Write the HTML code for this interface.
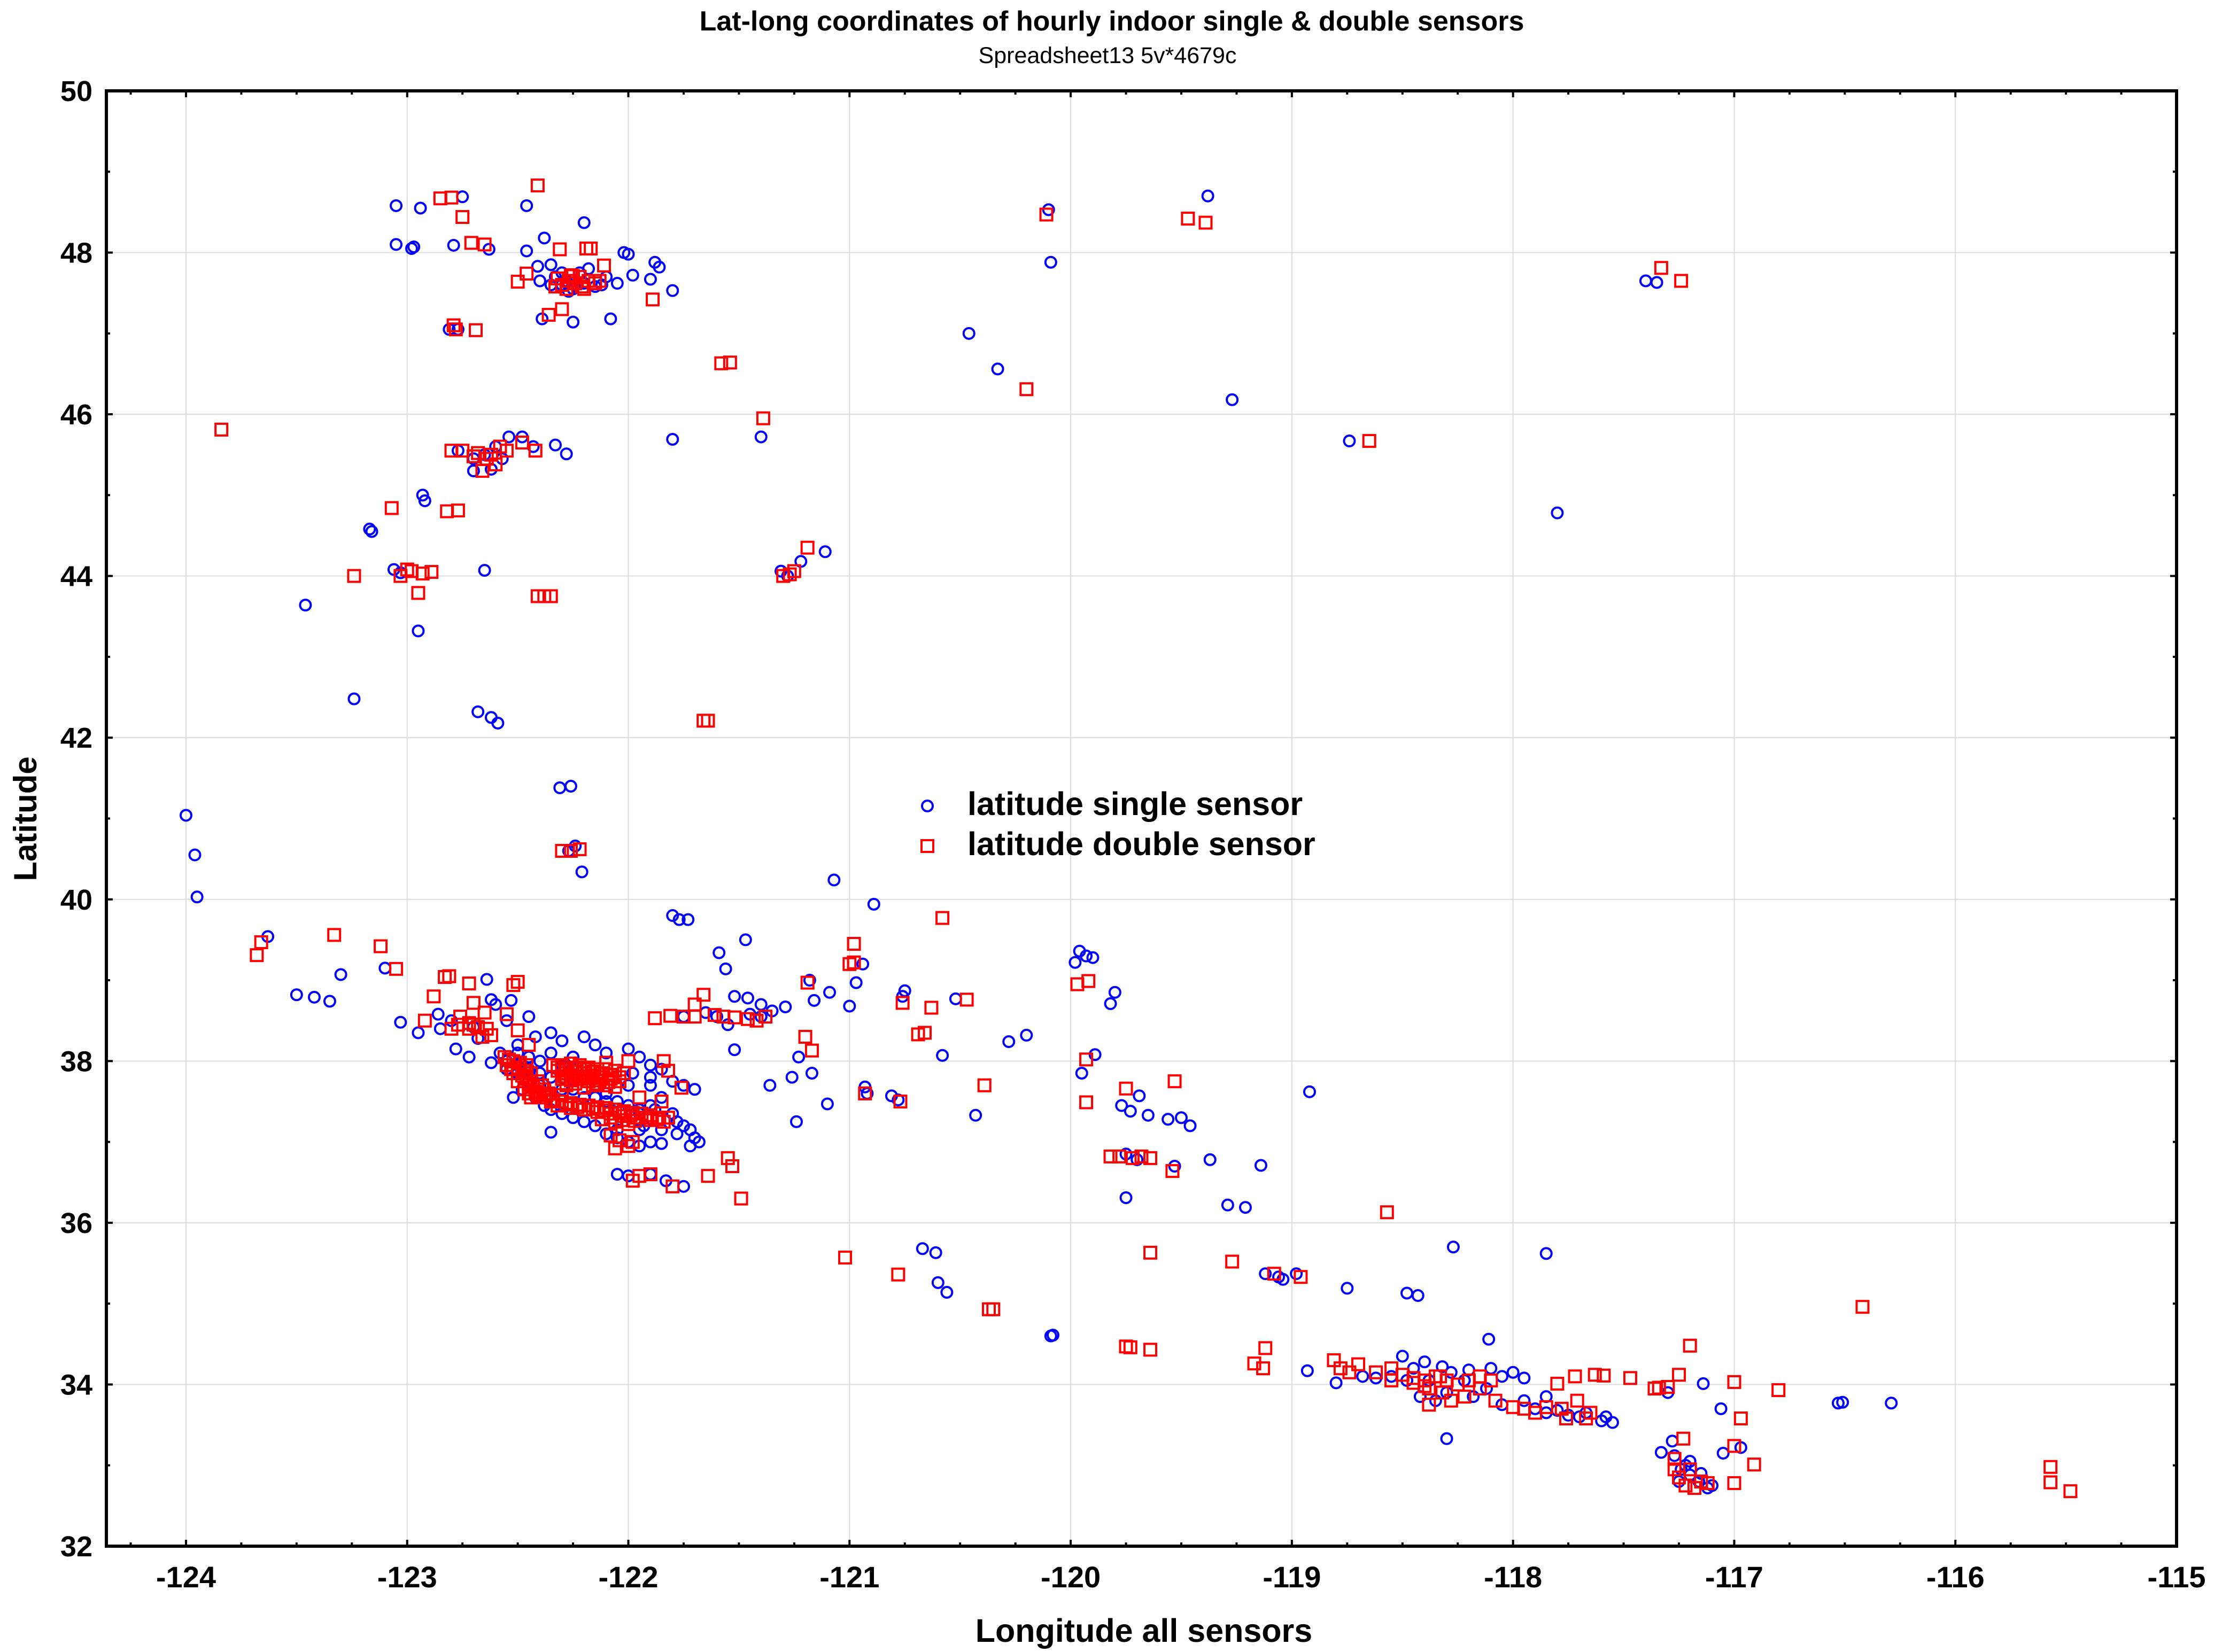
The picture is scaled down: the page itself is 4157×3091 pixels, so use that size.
<!DOCTYPE html>
<html><head><meta charset="utf-8"><style>
html,body{margin:0;padding:0;background:#fff;}
svg{display:block;}
text{font-family:"Liberation Sans",Arial,sans-serif;}
</style></head><body>
<svg id="chart" width="4157" height="3091" viewBox="0 0 4157 3091" xmlns="http://www.w3.org/2000/svg">
<rect width="4157" height="3091" fill="#fff"/>
<text x="2080" y="57" text-anchor="middle" font-size="52" font-weight="bold">Lat-long coordinates of hourly indoor single &amp; double sensors</text>
<text x="2072" y="118" text-anchor="middle" font-size="43">Spreadsheet13 5v*4679c</text>
<g id="grid"></g>
<g id="pts"></g>
<rect x="199" y="170" width="3873" height="2723" fill="none" stroke="#000" stroke-width="6"/>
<g id="axes"></g>
<text x="2140" y="3072" text-anchor="middle" font-size="61" font-weight="bold">Longitude all sensors</text>
<text x="0" y="0" transform="translate(68,1532) rotate(-90)" text-anchor="middle" font-size="60" font-weight="bold">Latitude</text>
<g>
<circle cx="1735" cy="1508" r="10" fill="none" stroke="#0000ff" stroke-width="4"/>
<text x="1810" y="1525" font-size="61" font-weight="bold">latitude single sensor</text>
<rect x="1724" y="1572" width="22" height="22" fill="none" stroke="#ff0000" stroke-width="4"/>
<text x="1810" y="1600" font-size="61" font-weight="bold">latitude double sensor</text>
</g>
</svg>
<script>
const xTicks=[-124,-123,-122,-121,-120,-119,-118,-117,-116,-115];
const yTicks=[32,34,36,38,40,42,44,46,48,50];
const singleCoords=[
[-123.05,48.58],[-122.94,48.55],[-122.75,48.69],[-122.46,48.58],[-123.05,48.1],[-122.98,48.05],[-122.97,48.07],[-122.79,48.09],[-122.63,48.04],[-122.46,48.02],[-122.38,48.18],[-122.2,48.37],[-122.02,48.0],[-122.0,47.98],[-121.88,47.88],[-121.86,47.82],[-121.8,47.53],[-121.9,47.67],[-122.41,47.83],[-122.39,47.18],[-122.25,47.14],[-122.08,47.18],[-122.81,47.05],[-122.77,47.05],[-122.3,47.6],[-122.28,47.65],[-122.33,47.7],[-122.25,47.55],[-122.2,47.62],[-122.15,47.58],[-122.1,47.7],[-122.05,47.62],[-121.98,47.72],[-122.35,47.6],[-122.22,47.75],[-122.18,47.8],[-122.3,47.75],[-122.12,47.6],[-122.27,47.52],[-122.4,47.65],[-122.35,47.85],
[-122.77,45.55],[-122.7,45.3],[-122.62,45.32],[-122.57,45.45],[-122.54,45.72],[-122.48,45.72],[-122.43,45.6],[-122.33,45.62],[-122.28,45.51],[-122.6,45.6],[-122.65,45.5],[-122.7,45.45],[-121.8,45.69],[-121.4,45.72],
[-123.17,44.58],[-123.16,44.55],[-122.93,45.0],[-122.92,44.93],[-123.03,44.04],[-123.06,44.08],[-122.95,43.32],[-122.65,44.07],[-123.46,43.64],[-123.24,42.48],[-122.68,42.32],[-122.62,42.25],[-122.59,42.18],[-122.31,41.38],[-122.26,41.4],[-122.24,40.66],[-122.27,40.6],[-122.21,40.34],[-124.0,41.04],[-123.96,40.55],[-123.95,40.03],[-121.31,44.06],[-121.28,44.0],[-121.22,44.18],[-121.11,44.3],[-121.07,40.24],[-120.89,39.94],
[-120.46,47.0],[-120.33,46.56],[-120.1,48.53],[-120.09,47.88],[-119.38,48.7],[-119.27,46.18],[-118.74,45.67],[-117.8,44.78],[-117.4,47.65],[-117.35,47.63],
[-123.63,39.54],[-123.5,38.82],[-123.42,38.79],[-123.35,38.74],[-123.3,39.07],[-123.1,39.15],[-123.03,38.48],[-122.86,38.58],[-122.78,38.15],[-122.72,38.05],[-122.64,39.01],[-122.53,38.75],
[-122.62,38.76],[-122.6,38.7],[-122.95,38.35],[-122.85,38.4],[-122.8,38.5],[-122.7,38.42],[-122.68,38.28],[-122.55,38.5],[-122.45,38.55],[-122.5,38.2],[-122.42,38.3],[-122.35,38.35],[-122.3,38.25],[-122.2,38.3],[-122.15,38.2],[-122.1,38.1],[-122.0,38.15],[-121.95,38.05],[-121.9,37.95],[-121.85,37.9],[-121.8,37.75],[-121.75,37.7],[-121.7,37.65],[-122.62,37.98],[-122.55,37.9],[-122.5,37.85],[-122.45,37.75],[-122.48,37.65],[-122.42,37.55],[-122.38,37.45],[-122.35,37.4],[-122.3,37.35],[-122.25,37.3],[-122.2,37.25],[-122.15,37.2],[-122.1,37.1],[-122.05,37.05],[-122.0,37.0],[-121.95,36.95],[-121.9,37.0],[-121.85,36.98],[-121.78,37.1],[-121.72,37.15],[-121.7,37.05],[-121.68,37.0],[-121.72,36.95],[-122.35,37.12],[-122.05,36.6],[-122.0,36.58],[-121.9,36.6],[-121.83,36.52],[-121.75,36.45],[-121.9,37.45],[-121.85,37.55],[-121.95,37.35],[-122.05,37.5],[-122.1,37.6],[-122.15,37.7],[-122.2,37.8],[-122.25,37.9],[-122.3,37.95],[-122.4,38.0],[-122.58,38.1],[-122.0,37.7],[-121.9,37.7],[-122.45,38.05],[-122.52,37.55],
[-122.55,38.0],[-122.5,37.95],[-122.45,37.9],[-122.4,37.85],[-122.35,37.8],[-122.4,37.7],[-122.3,37.65],[-122.2,37.55],[-122.1,37.5],[-122.0,37.45],[-121.95,37.4],[-121.88,37.4],[-121.8,37.35],[-121.78,37.25],[-121.85,37.15],[-121.95,37.15],[-122.05,37.15],[-121.93,37.2],[-121.75,37.2],[-122.25,37.65],[-122.15,37.55],[-122.5,38.1],[-122.35,38.1],[-122.25,38.05],[-121.98,37.85],[-121.9,37.8],
[-121.8,39.8],[-121.77,39.75],[-121.73,39.75],[-121.59,39.34],[-121.47,39.5],[-121.56,39.14],[-121.52,38.8],[-121.46,38.78],[-121.4,38.7],[-121.29,38.67],[-121.16,38.75],[-121.0,38.68],[-120.97,38.97],[-120.94,39.2],[-121.18,39.0],[-121.09,38.85],[-121.52,38.14],[-121.36,37.7],[-121.26,37.8],[-121.23,38.05],[-121.17,37.85],[-121.24,37.25],[-121.1,37.47],[-120.81,37.57],[-120.78,37.52],[-120.75,38.87],[-120.76,38.8],[-120.58,38.07],[-120.52,38.77],[-120.28,38.24],[-120.2,38.32],[-119.95,37.85],[-119.89,38.08],[-119.82,38.71],[-119.8,38.85],[-119.96,39.36],[-119.93,39.3],[-119.9,39.28],[-119.98,39.22],[-120.43,37.33],[-120.93,37.68],[-120.92,37.6],[-121.45,38.58],[-121.4,38.55],[-121.35,38.62],[-121.6,38.55],[-121.75,38.55],[-121.65,38.6],[-121.55,38.45],
[-119.69,37.57],[-119.65,37.33],[-119.77,37.45],[-119.73,37.38],[-119.56,37.28],[-119.5,37.3],[-119.46,37.2],[-119.75,36.31],[-119.53,36.7],[-119.37,36.78],[-119.29,36.22],[-119.21,36.19],[-119.14,36.71],[-118.92,37.62],[-119.75,36.85],[-119.7,36.78],
[-120.67,35.68],[-120.61,35.63],[-120.6,35.26],[-120.56,35.14],[-120.09,34.6],[-120.08,34.61],[-119.12,35.37],[-119.06,35.33],[-119.04,35.3],[-118.98,35.37],
[-118.93,34.17],[-118.8,34.02],[-118.68,34.1],[-118.62,34.08],[-118.55,34.1],[-118.5,34.35],[-118.45,34.2],[-118.4,34.28],[-118.38,34.05],[-118.42,33.85],[-118.35,33.8],[-118.3,33.9],[-118.28,34.15],[-118.22,34.05],[-118.18,33.85],[-118.12,33.95],[-118.05,34.1],[-118.0,34.15],[-117.95,34.08],[-118.1,34.2],[-118.2,34.18],[-118.32,34.22],[-118.48,34.05],[-118.3,33.33],[-118.27,35.7],[-118.11,34.56],[-118.75,35.19],[-118.48,35.13],[-118.43,35.1],[-117.85,35.62],[-117.9,33.7],[-117.85,33.65],[-117.8,33.68],[-117.75,33.62],[-117.7,33.6],[-117.67,33.65],[-117.6,33.55],[-117.55,33.53],[-117.58,33.6],[-118.05,33.75],[-117.95,33.8],[-117.85,33.85],
[-117.33,33.16],[-117.27,33.12],[-117.24,32.95],[-117.2,32.88],[-117.16,32.8],[-117.12,32.72],[-117.25,32.8],[-117.2,33.05],[-117.15,32.9],[-117.05,33.15],[-116.97,33.22],[-117.06,33.7],[-117.3,33.9],[-117.14,34.01],[-116.53,33.77],[-116.51,33.78],[-116.29,33.77],[-117.28,33.3],[-117.22,33.0],[-117.1,32.75]
];
const doubleCoords=[
[-123.84,45.81],[-123.66,39.47],[-123.68,39.31],[-123.33,39.56],[-123.12,39.42],[-123.05,39.14],[-123.24,44.0],[-123.07,44.84],[-123.03,44.0],[-122.98,44.06],[-122.93,44.03],[-122.89,44.05],[-122.95,43.79],[-123.0,44.08],[-122.77,44.81],[-122.82,44.8],[-122.85,48.67],[-122.8,48.68],[-122.75,48.44],[-122.71,48.12],[-122.65,48.1],[-122.79,47.1],[-122.78,47.05],[-122.69,47.04],[-122.41,48.83],[-122.5,47.64],[-122.46,47.74],[-122.36,47.23],[-122.3,47.3],[-122.31,48.04],[-122.25,47.71],[-122.19,48.05],[-122.17,48.05],[-122.11,47.84],[-121.89,47.42],[-122.13,47.65],
[-122.3,47.6],[-122.27,47.65],[-122.24,47.62],[-122.21,47.58],[-122.28,47.55],[-122.32,47.68],[-122.22,47.7],[-122.18,47.65],[-122.15,47.62],[-122.33,47.58],[-122.26,47.72],[-122.2,47.55],
[-121.58,46.63],[-121.54,46.64],[-121.39,45.95],[-120.2,46.31],[-120.11,48.47],[-119.47,48.42],[-119.39,48.37],[-118.65,45.67],[-117.33,47.81],[-117.24,47.65],
[-122.8,45.55],[-122.75,45.55],[-122.68,45.52],[-122.64,45.45],[-122.6,45.38],[-122.55,45.55],[-122.48,45.65],[-122.42,45.55],[-122.66,45.3],[-122.62,45.5],[-122.7,45.48],[-122.58,45.6],
[-122.41,43.75],[-122.38,43.75],[-122.35,43.75],[-121.66,42.21],[-121.64,42.21],[-121.3,44.0],[-121.27,44.02],[-121.25,44.06],[-121.19,44.35],[-122.3,40.6],[-122.26,40.6],[-122.22,40.62],
[-122.88,38.8],[-122.92,38.5],[-122.81,39.05],[-122.83,39.04],[-122.72,38.96],[-122.7,38.72],[-122.5,38.98],[-122.52,38.94],[-122.76,38.55],[-122.8,38.4],[-122.7,38.45],[-122.65,38.6],[-122.55,38.58],[-122.5,38.38],[-122.45,38.2],
[-122.56,38.05],[-122.52,38.0],[-122.55,37.95],[-122.5,37.92],[-122.46,37.95],[-122.52,37.85],[-122.48,37.82],[-122.44,37.85],[-122.5,37.75],[-122.45,37.72],[-122.41,37.75],[-122.47,37.65],[-122.42,37.62],[-122.38,37.65],[-122.44,37.55],[-122.4,37.55],[-122.37,37.58],
[-122.54,38.02],[-122.49,37.98],[-122.47,37.88],[-122.53,37.9],[-122.46,37.78],[-122.43,37.68],[-122.39,37.7],[-122.45,37.6],[-122.41,37.58],
[-122.34,37.95],[-122.3,37.95],[-122.26,37.97],[-122.22,37.95],[-122.18,37.92],[-122.14,37.9],[-122.1,37.9],[-122.06,37.88],[-122.02,37.85],[-122.32,37.88],[-122.28,37.85],[-122.24,37.87],[-122.2,37.85],[-122.16,37.82],[-122.12,37.8],[-122.08,37.78],[-122.04,37.75],[-122.3,37.78],[-122.26,37.76],[-122.22,37.78],[-122.18,37.75],[-122.14,37.72],[-122.1,37.7],[-122.06,37.68],[-122.28,37.7],[-122.2,37.67],
[-122.32,37.92],[-122.28,37.9],[-122.24,37.92],[-122.2,37.9],[-122.16,37.87],[-122.12,37.85],[-122.08,37.83],[-122.04,37.8],[-122.29,37.81],[-122.25,37.81],[-122.21,37.81],[-122.17,37.79],[-122.13,37.76],[-122.09,37.74],[-122.24,37.72],[-122.16,37.7],
[-122.38,37.55],[-122.34,37.52],[-122.3,37.5],[-122.26,37.48],[-122.22,37.46],[-122.18,37.45],[-122.14,37.43],[-122.1,37.42],[-122.06,37.4],[-122.02,37.38],[-121.98,37.36],[-121.94,37.35],[-121.9,37.33],[-121.86,37.3],[-121.82,37.3],[-122.32,37.45],[-122.26,37.42],[-122.2,37.4],[-122.14,37.37],[-122.08,37.35],[-122.02,37.32],[-121.96,37.3],[-121.9,37.27],[-121.84,37.25],[-122.36,37.6],[-122.3,37.58],[-122.12,37.28],[-122.06,37.25],[-122.0,37.22],
[-122.35,37.5],[-122.28,37.46],[-122.23,37.43],[-122.16,37.41],[-122.11,37.39],[-122.04,37.36],[-121.99,37.33],[-121.92,37.3],[-121.87,37.28],[-122.08,37.3],[-122.03,37.27],[-121.97,37.26],
[-122.08,37.08],[-122.04,37.02],[-122.0,36.95],[-122.06,36.92],[-121.98,37.0],
[-122.77,38.45],[-122.72,38.47],[-122.68,38.42],[-122.64,38.4],[-122.62,38.32],[-122.66,38.3],[-122.72,38.4],
[-121.81,38.56],[-121.75,38.55],[-121.7,38.55],[-121.57,38.55],[-121.52,38.54],[-121.46,38.52],[-121.42,38.5],[-121.38,38.55],[-121.88,38.53],[-121.76,37.67],[-121.66,38.82],[-121.7,38.7],[-121.61,38.57],[-121.64,36.58],[-121.49,36.3],[-121.55,36.8],[-121.53,36.7],[-121.95,36.58],[-121.98,36.52],[-121.9,36.6],[-121.8,36.45],[-121.85,37.5],[-121.95,37.55],[-122.1,37.98],[-122.0,38.0],[-121.84,38.0],[-121.82,37.88],
[-121.19,38.97],[-121.17,38.13],[-121.2,38.3],[-121.02,35.57],[-120.98,39.45],[-121.0,39.2],[-120.98,39.22],[-120.93,37.6],[-120.77,37.5],[-120.76,38.72],[-120.63,38.66],[-120.47,38.76],[-120.58,39.77],[-120.69,38.33],[-120.66,38.35],[-120.39,37.7],[-120.78,35.36],[-120.37,34.93],[-120.35,34.93],[-119.93,38.02],[-119.93,37.49],[-119.92,38.99],[-119.97,38.95],[-119.75,37.66],[-119.78,36.82],[-119.82,36.82],[-119.72,36.8],[-119.68,36.82],[-119.64,36.8],[-119.53,37.75],[-119.54,36.64],[-119.64,35.63],[-119.75,34.47],[-119.73,34.46],[-119.64,34.43],[-119.27,35.52],[-119.17,34.26],[-119.13,34.2],[-119.12,34.45],[-119.08,35.37],[-118.96,35.33],[-118.57,36.13],
[-118.81,34.3],[-118.78,34.2],[-118.74,34.15],[-118.7,34.25],[-118.62,34.15],[-118.55,34.2],[-118.5,34.12],[-118.45,34.08],[-118.4,34.05],[-118.35,34.1],[-118.3,34.05],[-118.25,34.0],[-118.2,34.05],[-118.15,34.1],[-118.1,34.05],[-118.45,34.02],[-118.38,33.95],[-118.32,33.9],[-118.38,33.75],[-118.28,33.8],[-118.22,33.85],[-118.15,33.95],[-118.08,33.8],[-118.0,33.72],[-117.95,33.7],[-118.4,33.98],[-118.33,34.1],[-118.55,34.05],[-117.8,34.01],[-117.72,34.1],[-117.63,34.12],[-117.59,34.11],[-117.47,34.08],[-117.71,33.8],[-117.76,33.58],[-117.67,33.58],[-117.25,34.12],[-117.2,34.48],[-117.34,33.96],[-117.3,33.97],[-117.36,33.95],[-117.0,34.03],[-116.97,33.58],[-116.8,33.93],[-116.42,34.96],[-117.0,33.24],[-116.91,33.01],[-117.0,32.78],[-117.23,33.33],[-117.27,33.08],[-117.25,32.85],[-117.22,32.75],[-117.18,32.72],[-117.15,32.8],[-117.12,32.78],[-117.27,32.95],[-117.2,32.95],[-115.57,32.98],[-115.57,32.79],[-115.48,32.68],[-117.85,33.72],[-117.9,33.65],[-117.78,33.7],[-117.65,33.65]
];
const NS='http://www.w3.org/2000/svg';
const X0=199,X1=4072,Y0=170,Y1=2893,LON0=-124.36,LON1=-115,LAT0=32,LAT1=50;
function sx(v){return X0+(v-LON0)/(LON1-LON0)*(X1-X0);}
function sy(v){return Y1-(v-LAT0)/(LAT1-LAT0)*(Y1-Y0);}
function mk(tag,attrs,parent){const e=document.createElementNS(NS,tag);for(const k in attrs)e.setAttribute(k,attrs[k]);parent.appendChild(e);return e;}
const grid=document.getElementById('grid'),axes=document.getElementById('axes'),pts=document.getElementById('pts');
xTicks.forEach(t=>{
  const x=sx(t);
  if(t>LON0&&t<LON1){const g=mk('line',{x1:x,x2:x,y1:Y0,y2:Y1,stroke:'#dcdcdc','stroke-width':2},grid);
  
  }
  const lbl=mk('text',{x:x,y:2970,'text-anchor':'middle','font-size':56,'font-weight':'bold'},axes);
  lbl.textContent=t;
  
  
});
yTicks.forEach(t=>{
  const y=sy(t);
  if(t>LAT0&&t<LAT1){const g=mk('line',{x1:X0,x2:X1,y1:y,y2:y,stroke:'#dcdcdc','stroke-width':2},grid);
  
  }
  const lbl=mk('text',{x:173,y:y+19,'text-anchor':'end','font-size':54,'font-weight':'bold'},axes);
  lbl.textContent=t;
  
  
});
for(let v=-124.25;v<=-115.001;v+=0.25){const x=sx(v);const major=Math.abs(v-Math.round(v))<1e-6;const L=major?12:7;
  mk('line',{x1:x,x2:x,y1:Y1,y2:Y1-L,stroke:'#000','stroke-width':4},axes);
  mk('line',{x1:x,x2:x,y1:Y0,y2:Y0+L,stroke:'#000','stroke-width':4},axes);}
for(let v=33;v<50;v++){const y=sy(v);const L=(v%2===0)?12:7;
  mk('line',{x1:X0,x2:X0+L,y1:y,y2:y,stroke:'#000','stroke-width':4},axes);
  mk('line',{x1:X1,x2:X1-L,y1:y,y2:y,stroke:'#000','stroke-width':4},axes);}
singleCoords.forEach(p=>{
  const c=mk('circle',{cx:sx(p[0]),cy:sy(p[1]),r:10,fill:'none',stroke:'#0000ff','stroke-width':4},pts);
  
  
});
doubleCoords.forEach(p=>{
  const r=mk('rect',{x:sx(p[0])-11,y:sy(p[1])-11,width:22,height:22,fill:'none',stroke:'#ff0000','stroke-width':4},pts);
  
  
});
</script>
</body></html>
